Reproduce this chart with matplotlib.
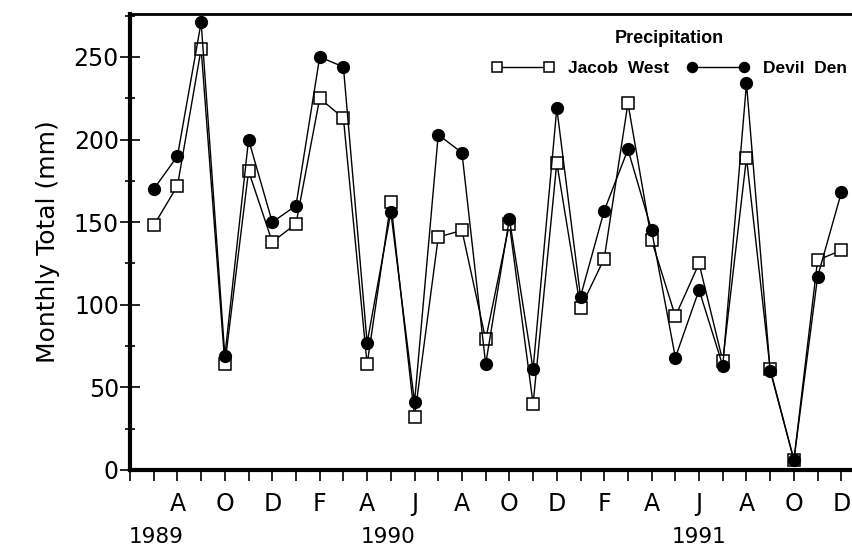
import matplotlib
matplotlib.use("Agg")
import matplotlib.pyplot as plt
import numpy as np

plt.rcParams['font.family'] = ['DejaVu Sans']

# monthly totals, Jul 1989 .. Dec 1991
jacob_west = [148, 172, 255, 64, 181, 138, 149, 225, 213, 64, 162, 32,
              141, 145, 79, 149, 40, 186, 98, 128, 222, 139, 93, 125,
              66, 189, 61, 6, 127, 133]
devil_den = [170, 190, 271, 69, 200, 150, 160, 250, 244, 77, 156, 41,
             203, 192, 64, 152, 61, 219, 105, 157, 194, 145, 68, 109,
             63, 234, 60, 6, 117, 168]
month_idx = np.arange(len(jacob_west))

# Jun 1989 .. Dec 1991, label every other month (Aug, Oct, Dec, ...)
month_letters = ["J", "J", "A", "S", "O", "N", "D", "J", "F", "M", "A", "M",
                 "J", "J", "A", "S", "O", "N", "D", "J", "F", "M", "A", "M",
                 "J", "J", "A", "S", "O", "N", "D"]
tick_idx = np.arange(-1, 30)
years = ["1989", "1990", "1991"]
year_pos = [0.1, 9.9, 23.0]

fig = plt.figure(figsize=(8.52, 5.5), dpi=100)
ax = fig.add_axes([0.1526, 0.1455, 0.8474, 0.829])

ax.plot(month_idx, jacob_west, color="black", lw=1.0, marker="s", ms=8,
        mfc="white", mec="black", mew=1.1, label="Jacob  West", zorder=3)
ax.plot(month_idx, devil_den, color="black", lw=1.0, marker="o", ms=8.5,
        mfc="black", mec="black", label="Devil  Den", zorder=4)

ax.set_xlim(-1, 29.45)
ax.set_ylim(0, 276)

ax.set_yticks([0, 50, 100, 150, 200, 250])
ax.set_yticks(np.arange(25, 276, 50), minor=True)
ax.tick_params(axis="y", which="major", direction="inout", length=14, width=1.2,
               labelsize=17, pad=1)
ax.tick_params(axis="y", which="minor", direction="inout", length=7, width=1.2)

ax.set_xticks(tick_idx)
ax.set_xticklabels([m if (i > 0 and i % 2 == 1) else ""
                    for i, m in zip(tick_idx, month_letters)])
ax.tick_params(axis="x", which="major", direction="out", length=8, width=1.2,
               labelsize=17, pad=8)

for yr, xp in zip(years, year_pos):
    ax.text(xp, -0.147, yr, transform=ax.get_xaxis_transform(),
            ha="center", va="center", fontsize=15.5)

ax.set_ylabel("Monthly Total (mm)", fontsize=18, labelpad=10)

ax.spines["right"].set_visible(False)
ax.spines["left"].set_linewidth(3)
ax.spines["bottom"].set_linewidth(3)
ax.spines["top"].set_linewidth(2)

leg = ax.legend(loc="upper right", bbox_to_anchor=(1.01, 0.992), ncol=2,
                numpoints=2, frameon=False, title="Precipitation",
                prop={"family": "Liberation Sans", "weight": "bold", "size": 12.5},
                handlelength=3.6, handletextpad=0.8, columnspacing=1.0,
                borderpad=0.2, labelspacing=0.8, markerscale=0.85)
leg.get_title().set_fontweight("bold")
leg.get_title().set_fontsize(13)
leg.get_title().set_fontfamily("Liberation Sans")

fig.savefig("out.png", dpi=100)
